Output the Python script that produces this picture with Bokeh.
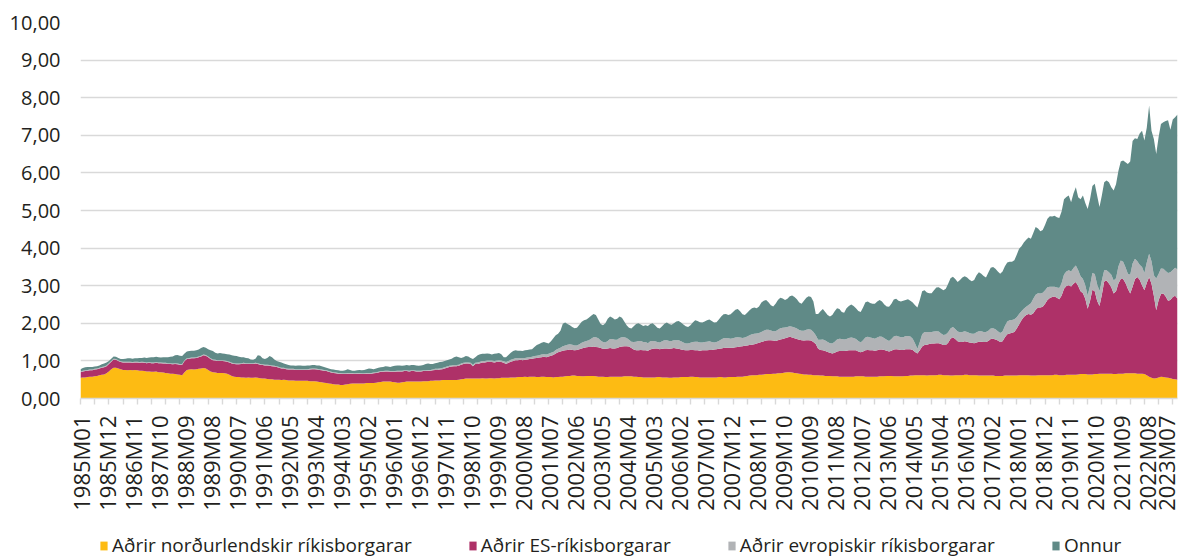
from bokeh.plotting import figure
from bokeh.layouts import column
from bokeh.models import (ColumnDataSource, Range1d, FixedTicker, Legend, LegendItem)
from bokeh.embed import file_html
from bokeh.resources import INLINE

# ---------------- data (monthly, 1985M01 .. 2023M09) ----------------
nordic = [
    0.55,0.56,0.56,0.57,0.58,0.58,0.59,0.60,0.62,0.63,0.64,0.67,
    0.72,0.78,0.82,0.82,0.80,0.78,0.76,0.76,0.75,0.76,0.75,0.76,
    0.75,0.74,0.74,0.73,0.72,0.72,0.71,0.71,0.72,0.70,0.70,0.69,
    0.68,0.67,0.66,0.66,0.65,0.64,0.63,0.62,0.70,0.76,0.77,0.78,
    0.77,0.78,0.79,0.80,0.81,0.80,0.76,0.72,0.70,0.69,0.68,0.68,
    0.68,0.67,0.66,0.63,0.60,0.58,0.57,0.57,0.56,0.56,0.55,0.56,
    0.55,0.55,0.56,0.55,0.54,0.53,0.53,0.52,0.51,0.51,0.50,0.50,
    0.50,0.49,0.50,0.49,0.48,0.48,0.48,0.47,0.47,0.47,0.47,0.47,
    0.47,0.46,0.46,0.46,0.45,0.44,0.43,0.42,0.41,0.40,0.39,0.38,
    0.37,0.37,0.36,0.36,0.37,0.38,0.39,0.40,0.40,0.40,0.40,0.40,
    0.40,0.41,0.41,0.41,0.41,0.42,0.43,0.44,0.45,0.45,0.45,0.45,
    0.44,0.43,0.42,0.42,0.43,0.44,0.45,0.45,0.45,0.45,0.45,0.45,
    0.45,0.46,0.46,0.46,0.47,0.47,0.48,0.48,0.48,0.49,0.49,0.49,
    0.49,0.49,0.49,0.49,0.50,0.51,0.52,0.53,0.53,0.53,0.53,0.53,
    0.53,0.53,0.54,0.53,0.53,0.54,0.54,0.53,0.54,0.54,0.55,0.55,
    0.55,0.55,0.56,0.56,0.56,0.57,0.57,0.57,0.58,0.57,0.58,0.58,
    0.58,0.57,0.57,0.58,0.58,0.57,0.57,0.57,0.56,0.57,0.57,0.58,
    0.58,0.59,0.60,0.60,0.61,0.61,0.60,0.60,0.59,0.59,0.60,0.60,
    0.60,0.60,0.59,0.58,0.58,0.58,0.57,0.57,0.58,0.58,0.58,0.58,
    0.58,0.58,0.59,0.59,0.59,0.59,0.58,0.58,0.57,0.57,0.56,0.56,
    0.56,0.56,0.56,0.56,0.57,0.57,0.56,0.56,0.56,0.55,0.55,0.56,
    0.56,0.56,0.57,0.57,0.57,0.57,0.58,0.58,0.57,0.57,0.56,0.56,
    0.56,0.56,0.56,0.56,0.56,0.56,0.57,0.57,0.56,0.56,0.57,0.57,
    0.57,0.57,0.58,0.58,0.58,0.59,0.60,0.61,0.62,0.62,0.62,0.63,
    0.63,0.64,0.65,0.65,0.65,0.66,0.66,0.67,0.67,0.68,0.69,0.70,
    0.70,0.69,0.68,0.67,0.66,0.65,0.64,0.64,0.63,0.63,0.62,0.62,
    0.62,0.61,0.61,0.60,0.60,0.60,0.59,0.59,0.59,0.58,0.58,0.58,
    0.58,0.58,0.58,0.58,0.59,0.59,0.59,0.59,0.58,0.58,0.58,0.58,
    0.58,0.58,0.59,0.59,0.59,0.60,0.60,0.60,0.59,0.59,0.59,0.59,
    0.59,0.60,0.60,0.61,0.61,0.62,0.62,0.62,0.62,0.62,0.61,0.62,
    0.62,0.62,0.62,0.63,0.63,0.62,0.62,0.62,0.61,0.61,0.62,0.62,
    0.62,0.62,0.63,0.63,0.62,0.62,0.62,0.62,0.61,0.61,0.61,0.61,
    0.61,0.61,0.61,0.60,0.60,0.60,0.60,0.61,0.61,0.61,0.61,0.61,
    0.61,0.62,0.62,0.62,0.62,0.62,0.61,0.61,0.61,0.62,0.62,0.62,
    0.62,0.62,0.62,0.62,0.63,0.63,0.62,0.62,0.62,0.63,0.63,0.63,
    0.63,0.63,0.64,0.65,0.65,0.65,0.64,0.64,0.64,0.65,0.65,0.66,
    0.66,0.66,0.66,0.66,0.66,0.65,0.65,0.66,0.66,0.66,0.67,0.67,
    0.67,0.67,0.67,0.66,0.66,0.66,0.65,0.62,0.58,0.55,0.53,0.54,
    0.56,0.58,0.57,0.56,0.55,0.54,0.52,0.51,0.50,
]

es = [
    0.15,0.16,0.17,0.17,0.17,0.17,0.18,0.18,0.18,0.19,0.19,0.19,
    0.20,0.20,0.22,0.21,0.20,0.19,0.20,0.20,0.21,0.20,0.20,0.20,
    0.21,0.21,0.22,0.22,0.22,0.23,0.23,0.23,0.23,0.24,0.24,0.24,
    0.25,0.25,0.26,0.25,0.27,0.27,0.27,0.28,0.30,0.29,0.29,0.29,
    0.30,0.30,0.31,0.32,0.34,0.34,0.34,0.33,0.32,0.32,0.32,0.32,
    0.32,0.32,0.32,0.33,0.33,0.34,0.34,0.34,0.36,0.37,0.37,0.36,
    0.37,0.37,0.37,0.37,0.36,0.36,0.35,0.36,0.36,0.35,0.35,0.34,
    0.32,0.31,0.30,0.29,0.29,0.29,0.29,0.29,0.29,0.29,0.29,0.29,
    0.29,0.31,0.32,0.32,0.32,0.32,0.32,0.32,0.32,0.31,0.30,0.30,
    0.30,0.29,0.30,0.29,0.28,0.28,0.27,0.26,0.25,0.26,0.26,0.25,
    0.25,0.25,0.25,0.25,0.26,0.26,0.26,0.27,0.26,0.27,0.27,0.26,
    0.27,0.28,0.30,0.30,0.29,0.29,0.28,0.27,0.28,0.28,0.27,0.27,
    0.27,0.27,0.27,0.28,0.27,0.28,0.28,0.28,0.29,0.29,0.31,0.33,
    0.35,0.36,0.37,0.37,0.37,0.39,0.40,0.40,0.40,0.39,0.33,0.39,
    0.39,0.41,0.42,0.43,0.44,0.43,0.43,0.43,0.43,0.44,0.42,0.40,
    0.37,0.40,0.42,0.44,0.46,0.45,0.46,0.45,0.45,0.47,0.47,0.48,
    0.49,0.51,0.52,0.52,0.53,0.53,0.55,0.57,0.60,0.63,0.66,0.67,
    0.69,0.69,0.69,0.70,0.68,0.67,0.69,0.71,0.74,0.76,0.76,0.77,
    0.77,0.78,0.78,0.78,0.76,0.74,0.75,0.76,0.76,0.75,0.75,0.76,
    0.79,0.80,0.80,0.80,0.79,0.75,0.72,0.70,0.71,0.72,0.72,0.72,
    0.71,0.74,0.76,0.77,0.76,0.74,0.76,0.77,0.77,0.77,0.78,0.78,
    0.77,0.76,0.73,0.72,0.71,0.71,0.71,0.71,0.71,0.71,0.71,0.72,
    0.72,0.72,0.73,0.73,0.74,0.75,0.75,0.76,0.78,0.79,0.78,0.78,
    0.78,0.79,0.79,0.80,0.81,0.81,0.81,0.81,0.81,0.82,0.84,0.85,
    0.87,0.88,0.89,0.90,0.90,0.88,0.87,0.88,0.90,0.90,0.91,0.92,
    0.94,0.93,0.92,0.91,0.90,0.90,0.90,0.91,0.92,0.91,0.88,0.83,
    0.70,0.68,0.67,0.66,0.64,0.62,0.61,0.63,0.66,0.68,0.68,0.68,
    0.69,0.70,0.70,0.70,0.69,0.66,0.64,0.66,0.70,0.71,0.70,0.70,
    0.69,0.70,0.71,0.71,0.70,0.67,0.65,0.67,0.71,0.72,0.71,0.70,
    0.70,0.71,0.71,0.70,0.68,0.62,0.58,0.66,0.76,0.80,0.82,0.83,
    0.84,0.84,0.85,0.84,0.82,0.80,0.80,0.86,0.98,1.02,0.96,0.90,
    0.88,0.88,0.89,0.88,0.87,0.86,0.85,0.87,0.90,0.90,0.89,0.89,
    0.92,0.97,0.98,0.97,0.94,0.90,0.92,1.02,1.10,1.12,1.14,1.16,
    1.25,1.35,1.46,1.55,1.60,1.63,1.62,1.66,1.75,1.80,1.80,1.82,
    1.90,2.00,2.05,2.08,2.08,2.05,2.02,2.12,2.30,2.36,2.38,2.35,
    2.42,2.47,2.35,2.20,2.15,2.00,1.75,1.95,2.25,2.20,1.95,1.80,
    2.10,2.45,2.48,2.40,2.30,2.14,2.20,2.40,2.52,2.52,2.40,2.25,
    2.12,2.30,2.50,2.57,2.50,2.35,2.23,2.45,2.65,2.50,2.20,1.81,
    2.05,2.20,2.22,2.15,2.05,2.08,2.18,2.22,2.15,
]

europe = [
    0.02,0.02,0.02,0.02,0.02,0.02,0.02,0.02,0.02,0.02,0.02,0.02,
    0.02,0.02,0.02,0.02,0.02,0.02,0.02,0.02,0.02,0.02,0.02,0.02,
    0.02,0.02,0.02,0.02,0.02,0.02,0.02,0.02,0.02,0.02,0.02,0.02,
    0.02,0.02,0.02,0.02,0.02,0.02,0.02,0.02,0.02,0.02,0.02,0.02,
    0.02,0.02,0.02,0.02,0.02,0.02,0.02,0.02,0.02,0.02,0.02,0.02,
    0.02,0.02,0.02,0.02,0.02,0.02,0.02,0.02,0.02,0.02,0.02,0.02,
    0.02,0.02,0.02,0.02,0.02,0.02,0.02,0.02,0.02,0.02,0.02,0.02,
    0.02,0.02,0.02,0.02,0.02,0.02,0.02,0.02,0.02,0.02,0.02,0.02,
    0.02,0.02,0.02,0.02,0.02,0.02,0.02,0.02,0.02,0.02,0.02,0.02,
    0.02,0.02,0.02,0.02,0.02,0.02,0.02,0.02,0.02,0.02,0.02,0.02,
    0.02,0.02,0.02,0.02,0.02,0.02,0.02,0.02,0.02,0.02,0.02,0.02,
    0.02,0.02,0.02,0.02,0.02,0.02,0.02,0.02,0.02,0.02,0.02,0.02,
    0.02,0.02,0.02,0.02,0.02,0.02,0.03,0.03,0.03,0.03,0.03,0.03,
    0.03,0.03,0.03,0.03,0.03,0.03,0.03,0.03,0.03,0.03,0.03,0.03,
    0.04,0.04,0.04,0.04,0.04,0.04,0.04,0.04,0.04,0.04,0.04,0.04,
    0.05,0.05,0.05,0.05,0.05,0.05,0.05,0.05,0.05,0.05,0.05,0.05,
    0.06,0.06,0.06,0.07,0.07,0.07,0.07,0.08,0.08,0.09,0.09,0.10,
    0.12,0.13,0.14,0.14,0.14,0.13,0.12,0.13,0.15,0.16,0.17,0.18,
    0.22,0.25,0.26,0.24,0.20,0.18,0.17,0.20,0.24,0.25,0.23,0.22,
    0.24,0.25,0.24,0.22,0.18,0.17,0.20,0.23,0.25,0.24,0.22,0.22,
    0.20,0.22,0.21,0.19,0.17,0.18,0.20,0.22,0.22,0.21,0.20,0.21,
    0.22,0.23,0.22,0.20,0.18,0.18,0.19,0.21,0.23,0.23,0.22,0.21,
    0.22,0.23,0.23,0.21,0.19,0.19,0.21,0.24,0.26,0.26,0.25,0.24,
    0.25,0.26,0.26,0.24,0.22,0.22,0.24,0.26,0.28,0.28,0.27,0.26,
    0.27,0.28,0.29,0.28,0.26,0.25,0.26,0.28,0.30,0.30,0.29,0.28,
    0.28,0.29,0.29,0.28,0.26,0.25,0.26,0.28,0.29,0.29,0.27,0.23,
    0.24,0.27,0.29,0.28,0.26,0.25,0.26,0.29,0.32,0.33,0.32,0.31,
    0.31,0.33,0.34,0.33,0.30,0.28,0.26,0.30,0.34,0.35,0.34,0.33,
    0.32,0.34,0.35,0.34,0.31,0.29,0.28,0.31,0.35,0.36,0.35,0.34,
    0.34,0.35,0.35,0.34,0.30,0.22,0.12,0.22,0.33,0.35,0.33,0.32,
    0.31,0.32,0.32,0.31,0.28,0.27,0.28,0.28,0.27,0.27,0.27,0.26,
    0.26,0.27,0.27,0.26,0.25,0.24,0.25,0.27,0.28,0.28,0.27,0.27,
    0.27,0.28,0.28,0.27,0.25,0.24,0.26,0.30,0.34,0.35,0.34,0.34,
    0.30,0.28,0.24,0.22,0.22,0.24,0.30,0.38,0.40,0.38,0.37,0.37,
    0.36,0.34,0.30,0.27,0.26,0.27,0.30,0.33,0.38,0.39,0.40,0.40,
    0.42,0.44,0.42,0.40,0.38,0.36,0.35,0.40,0.45,0.46,0.44,0.40,
    0.38,0.30,0.27,0.30,0.33,0.35,0.35,0.45,0.49,0.46,0.42,0.40,
    0.50,0.62,0.55,0.42,0.40,0.49,0.46,0.55,0.62,0.60,0.55,0.84,
    0.70,0.68,0.66,0.68,0.74,0.74,0.72,0.75,0.78,
]

other = [
    0.06,0.07,0.08,0.08,0.07,0.07,0.06,0.06,0.06,0.07,0.08,0.08,
    0.06,0.06,0.06,0.06,0.06,0.06,0.07,0.08,0.09,0.09,0.09,0.09,
    0.09,0.11,0.10,0.12,0.12,0.12,0.14,0.14,0.14,0.14,0.13,0.15,
    0.15,0.16,0.17,0.19,0.21,0.23,0.22,0.21,0.18,0.18,0.18,0.18,
    0.18,0.18,0.18,0.20,0.20,0.19,0.19,0.21,0.22,0.19,0.18,0.19,
    0.18,0.18,0.18,0.19,0.20,0.20,0.20,0.18,0.16,0.15,0.14,0.13,
    0.10,0.09,0.11,0.21,0.22,0.16,0.15,0.18,0.24,0.22,0.17,0.14,
    0.14,0.14,0.11,0.11,0.10,0.09,0.09,0.09,0.10,0.10,0.09,0.09,
    0.10,0.09,0.09,0.09,0.09,0.10,0.09,0.08,0.07,0.07,0.07,0.07,
    0.07,0.07,0.06,0.07,0.08,0.10,0.08,0.06,0.07,0.07,0.08,0.08,
    0.09,0.10,0.12,0.11,0.09,0.10,0.11,0.10,0.11,0.12,0.11,0.11,
    0.13,0.14,0.14,0.14,0.13,0.13,0.14,0.14,0.14,0.14,0.14,0.13,
    0.14,0.14,0.17,0.17,0.16,0.15,0.15,0.16,0.17,0.17,0.17,0.17,
    0.17,0.18,0.21,0.23,0.20,0.15,0.15,0.17,0.16,0.13,0.16,0.15,
    0.19,0.20,0.19,0.19,0.19,0.18,0.16,0.19,0.19,0.19,0.17,0.11,
    0.13,0.16,0.19,0.21,0.21,0.20,0.19,0.19,0.20,0.20,0.20,0.20,
    0.24,0.28,0.30,0.31,0.32,0.31,0.27,0.30,0.36,0.39,0.40,0.45,
    0.60,0.61,0.55,0.51,0.47,0.46,0.47,0.52,0.56,0.57,0.57,0.60,
    0.61,0.62,0.59,0.50,0.44,0.45,0.51,0.59,0.60,0.57,0.54,0.56,
    0.57,0.52,0.42,0.34,0.32,0.35,0.42,0.47,0.47,0.44,0.43,0.45,
    0.46,0.46,0.47,0.43,0.38,0.37,0.40,0.44,0.47,0.45,0.43,0.45,
    0.50,0.51,0.50,0.48,0.46,0.44,0.47,0.52,0.57,0.55,0.54,0.53,
    0.55,0.57,0.58,0.56,0.53,0.53,0.57,0.61,0.64,0.64,0.62,0.65,
    0.70,0.74,0.75,0.70,0.63,0.60,0.63,0.67,0.69,0.70,0.67,0.71,
    0.78,0.80,0.79,0.73,0.67,0.66,0.73,0.79,0.81,0.78,0.73,0.75,
    0.80,0.83,0.81,0.78,0.73,0.72,0.80,0.85,0.88,0.87,0.81,0.57,
    0.69,0.76,0.81,0.76,0.72,0.71,0.76,0.81,0.83,0.79,0.72,0.71,
    0.82,0.85,0.88,0.85,0.82,0.80,0.81,0.87,0.94,0.94,0.92,0.91,
    0.93,0.96,0.97,0.94,0.90,0.89,0.91,0.94,0.98,0.98,0.95,0.95,
    0.97,0.96,0.98,0.95,0.96,1.02,1.10,1.12,1.14,1.11,1.06,1.03,
    1.03,1.10,1.16,1.18,1.19,1.19,1.22,1.29,1.34,1.34,1.33,1.32,
    1.39,1.45,1.46,1.45,1.42,1.40,1.43,1.52,1.57,1.53,1.49,1.45,
    1.55,1.62,1.63,1.61,1.59,1.58,1.60,1.59,1.57,1.56,1.55,1.57,
    1.66,1.73,1.73,1.76,1.78,1.79,1.72,1.75,1.80,1.72,1.66,1.67,
    1.74,1.82,1.88,1.87,1.89,1.87,1.86,1.91,2.00,1.98,1.99,1.84,
    1.98,2.08,1.94,2.05,2.22,2.19,2.30,2.31,2.31,2.40,2.36,2.23,
    2.26,2.34,2.39,2.39,2.33,2.39,2.50,2.54,2.63,2.69,2.79,2.92,
    3.01,3.26,3.20,3.25,3.49,3.62,3.52,3.58,3.94,3.47,3.62,3.31,
    3.64,3.84,3.90,3.99,4.06,3.79,4.00,4.00,4.12,
]

series_keys = ["nordic", "es", "europe", "other"]
series_labels = ["Aðrir norðurlendskir ríkisborgarar", "Aðrir ES-ríkisborgarar",
                 "Aðrir evropiskir ríkisborgarar", "Onnur"]
colors = ["#FDBB13", "#AE3168", "#B1B3B6", "#608A87"]

months = [f"{y}M{m:02d}" for y in range(1985, 2024) for m in range(1, 13)][:len(nordic)]
x = list(range(len(months)))
label_step = 11
tick_pos = list(range(0, len(months), label_step))
y_ticks = list(range(0, 11))
y_labels = {v: f"{v},00" for v in y_ticks}

FONT = "Open Sans"
TXT = "#231F20"

src = ColumnDataSource(dict(x=x, nordic=nordic, es=es, europe=europe, other=other))

# ---------------- main chart ----------------
p = figure(width=1180, height=528, output_backend="svg", toolbar_location=None,
           x_range=Range1d(0, len(months) - 1), y_range=Range1d(0, 10),
           min_border_left=80, min_border_right=3, min_border_top=22,
           min_border_bottom=130)
p.outline_line_color = None
p.background_fill_color = "white"

p.varea_stack(stackers=series_keys, x="x", color=colors, source=src)

# y axis
p.yaxis.ticker = FixedTicker(ticks=y_ticks)
p.yaxis.major_label_overrides = y_labels
p.yaxis.axis_line_color = None
p.yaxis.major_tick_line_color = None
p.yaxis.minor_tick_line_color = None
p.yaxis.major_tick_out = 0
p.yaxis.major_label_standoff = 20
p.yaxis.major_label_text_font = FONT
p.yaxis.major_label_text_font_size = "20px"
p.yaxis.major_label_text_color = TXT

p.ygrid.ticker = FixedTicker(ticks=y_ticks)
p.ygrid.grid_line_color = "#D9D9D9"
p.ygrid.grid_line_width = 1.4
p.xgrid.visible = False

# x axis
p.xaxis.ticker = FixedTicker(ticks=tick_pos, minor_ticks=list(range(0, len(months), 6)))
p.xaxis.major_label_overrides = {i: months[i] for i in tick_pos}
p.xaxis.major_label_orientation = 3.14159265 / 2
p.xaxis.major_tick_line_color = None
p.xaxis.major_tick_out = 6
p.xaxis.major_tick_in = 0
p.xaxis.minor_tick_line_color = "#D9D9D9"
p.xaxis.minor_tick_line_width = 1.4
p.xaxis.minor_tick_out = 6
p.xaxis.minor_tick_in = 0
p.xaxis.axis_line_color = "#D9D9D9"
p.xaxis.axis_line_width = 1.6
p.xaxis.major_label_standoff = 11
p.xaxis.major_label_text_font = FONT
p.xaxis.major_label_text_font_size = "22px"
p.xaxis.major_label_text_color = TXT

# ---------------- legend strip (same series, view range kept empty) ----------------
lg = figure(width=1180, height=30, output_backend="svg", toolbar_location=None,
            x_range=Range1d(0, len(months) - 1), y_range=Range1d(-2, -1),
            x_axis_type=None, y_axis_type=None, min_border=0)
lg.outline_line_color = None
lg.grid.visible = False
keys = lg.varea_stack(stackers=series_keys, x="x", color=colors, source=src)

legend = Legend(items=[LegendItem(label=lab, renderers=[r]) for lab, r in zip(series_labels, keys)],
                orientation="horizontal", location=(19, 0), spacing=56,
                glyph_width=9, glyph_height=11, label_standoff=4, padding=0, margin=0,
                border_line_color=None, background_fill_alpha=0,
                label_text_font=FONT, label_text_font_size="19px", label_text_color=TXT)
lg.add_layout(legend)

layout = column(p, lg, spacing=0)
open("out.html", "w").write(file_html(layout, INLINE))
